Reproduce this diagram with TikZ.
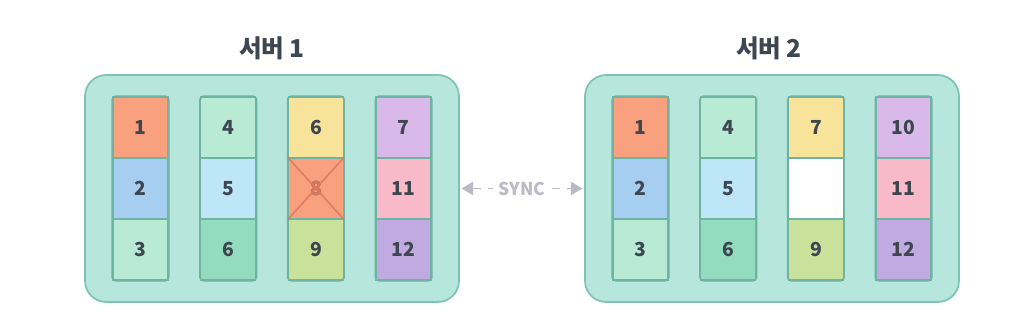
\documentclass[tikz,border=0pt]{standalone}
\usepackage{fontspec}
\setmainfont{Noto Sans CJK KR}
\usetikzlibrary{arrows.meta,calc}

\definecolor{boxfill}{HTML}{B6E6DC}
\definecolor{boxline}{HTML}{7EC4B4}
\definecolor{cellline}{HTML}{6FB3A3}
\definecolor{numtext}{HTML}{3E4650}
\definecolor{syncgray}{HTML}{BBBBC6}
\definecolor{sOrange}{HTML}{F9A07F}
\definecolor{sBlue}{HTML}{A6CEF0}
\definecolor{sMint}{HTML}{B8EAD6}
\definecolor{sSky}{HTML}{BDE7F6}
\definecolor{sGreen}{HTML}{93DCC0}
\definecolor{sYellow}{HTML}{F8E39B}
\definecolor{sLime}{HTML}{C9E29B}
\definecolor{sLilac}{HTML}{D9B9EA}
\definecolor{sPink}{HTML}{F8B9C8}
\definecolor{sPurple}{HTML}{C1A9E1}
\definecolor{crossline}{HTML}{D9785C}

\begin{document}
\begin{tikzpicture}[x=0.02cm, y=-0.02cm]
\useasboundingbox (0,0) rectangle (1024,320);

% Cell dimensions
\def\cellW{1.1cm}
\def\cellH{1.22cm}

\tikzset{
  serverbox/.style={draw=boxline, fill=boxfill, line width=1pt,
    rounded corners=12pt, minimum width=7.48cm, minimum height=4.54cm},
  cell/.style={draw=cellline, line width=0.8pt, inner sep=0pt,
    minimum width=\cellW, minimum height=\cellH, text=numtext,
    font=\fontsize{11}{12}\selectfont\bfseries},
  column/.style={draw=cellline, line width=1pt, rounded corners=2pt},
  title/.style={text=numtext, font=\fontsize{14}{16}\selectfont\bfseries},
  sync/.style={syncgray, line width=1.1pt, dash pattern=on 5pt off 4pt,
    {Triangle[length=6.5pt,width=7.5pt]}-{Triangle[length=6.5pt,width=7.5pt]}}
}

% Servers
\node[serverbox] (s1) at (272,188.5) {};
\node[serverbox] (s2) at (772,188.5) {};
\node[title] (t1) at (272,48) {서버 1};
\node[title] (t2) at (769,48) {서버 2};

% Server 1 blocks
\foreach \n/\c [count=\i from 0] in {1/sOrange,2/sBlue,3/sMint,4/sMint,5/sSky,6/sGreen,
    6/sYellow,8/sOrange,9/sLime,7/sLilac,11/sPink,12/sPurple} {
  \pgfmathtruncatemacro\col{\i/3}
  \pgfmathtruncatemacro\row{\i-3*\col}
  \node[cell, fill=\c] (a\i) at ({140.5+87.7*\col},{127.5+61*\row}) {\n};
}

% Server 2 blocks
\foreach \n/\c [count=\i from 0] in {1/sOrange,2/sBlue,3/sMint,4/sMint,5/sSky,6/sGreen,
    7/sYellow,/white,9/sLime,10/sLilac,11/sPink,12/sPurple} {
  \pgfmathtruncatemacro\col{\i/3}
  \pgfmathtruncatemacro\row{\i-3*\col}
  \node[cell, fill=\c] (b\i) at ({640.5+87.7*\col},{127.5+61*\row}) {\n};
}

% Column outlines
\foreach \t/\b in {0/2,3/5,6/8,9/11} {
  \draw[column] (a\t.north west) rectangle (a\b.south east);
  \draw[column] (b\t.north west) rectangle (b\b.south east);
}

% Lost block on server 1
\node[cell, draw=none, fill=none, text=crossline] at (a7) {8};
\draw[crossline, line width=1pt, opacity=0.8]
  (a7.north west) -- (a7.south east)
  (a7.north east) -- (a7.south west);

% Sync link
\draw[sync, shorten <=1pt, shorten >=1pt] (s1.east) -- (s2.west);
\node[fill=white, text=syncgray, inner sep=3pt,
  font=\fontsize{10}{11}\selectfont\bfseries] (sy) at ($(s1.east)!0.5!(s2.west)$) {SYNC};

\end{tikzpicture}
\end{document}
